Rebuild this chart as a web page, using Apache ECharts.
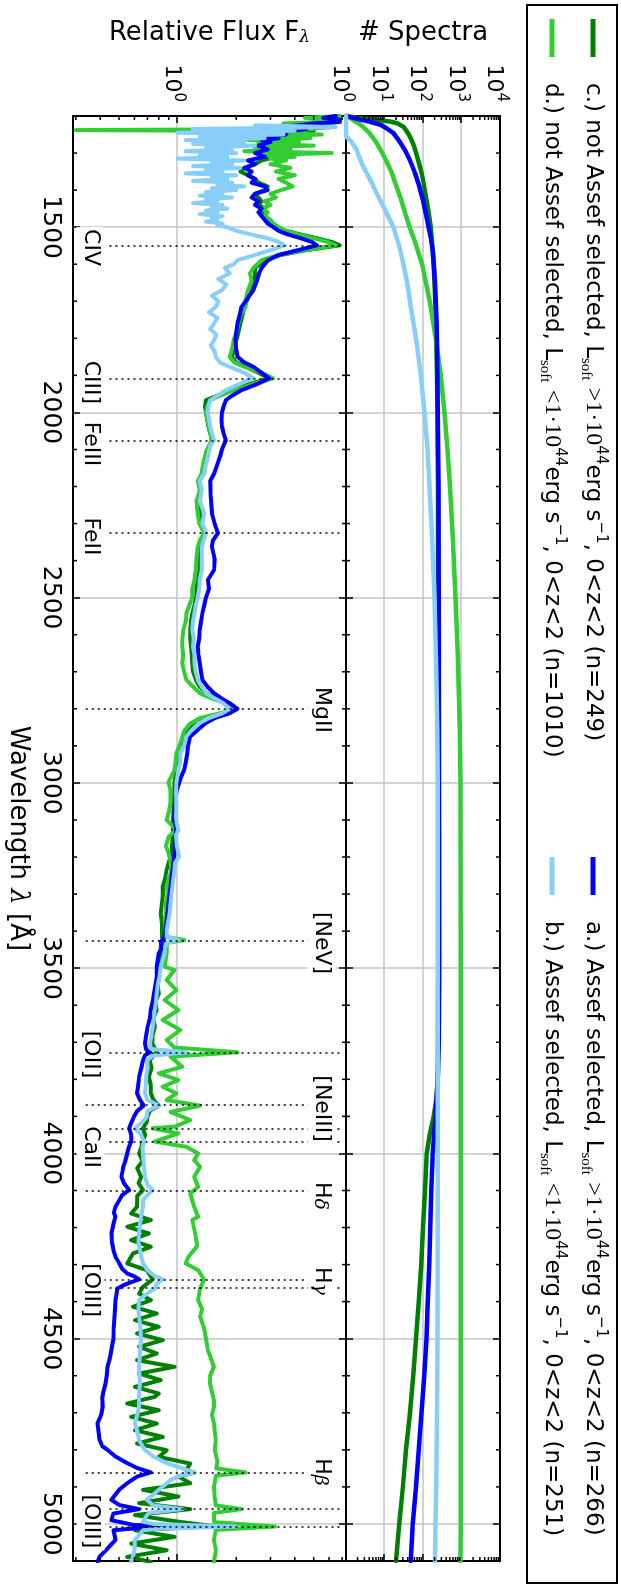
<!DOCTYPE html>
<html><head><meta charset="utf-8">
<script src="https://cdn.jsdelivr.net/npm/echarts@6/dist/echarts.min.js"></script>
<style>
html,body{margin:0;padding:0;background:#fff;overflow:hidden;}
body{width:621px;height:1586px;position:relative;}
#chart{position:absolute;left:0;top:0;width:1586px;height:621px;transform-origin:0 0;transform:translate(621px,0) rotate(90deg);}
</style></head><body><div id="chart"></div>
<script>
// ---------------- data ----------------
const seriesKeys = ['c', 'd', 'a', 'b'];
const legendTexts = {
  c: 'c.) not Assef selected, L{sub|soft} {m|>1·10}{sup|44}erg s{sup|−1}, 0<z<2 (n=249)',
  d: 'd.) not Assef selected, L{sub|soft} {m|<1·10}{sup|44}erg s{sup|−1}, 0<z<2 (n=1010)',
  a: 'a.) Assef selected, L{sub|soft} {m|>1·10}{sup|44}erg s{sup|−1}, 0<z<2 (n=266)',
  b: 'b.) Assef selected, L{sub|soft} {m|<1·10}{sup|44}erg s{sup|−1}, 0<z<2 (n=251)'
};
const wavelengthMinor = [1300,1400,1600,1700,1800,1900,2100,2200,2300,2400,2600,2700,2800,2900,3100,3200,3300,3400,3600,3700,3800,3900,4100,4200,4300,4400,4600,4700,4800,4900];
const countMinor = [2,3,4,5,6,7,8,9,20,30,40,50,60,70,80,90,200,300,400,500,600,700,800,900,2000,3000,4000,5000,6000,7000,8000,9000];
const fluxMinor = [0.3,0.4,0.5,0.6,0.7,0.8,0.9,2,3,4,5,6,7];

// number of spectra contributing at each wavelength
const countsC = [[1200,1],[1205,2],[1210,6],[1215,14],[1220,22],[1230,32],[1245,40],[1260,48],[1280,58],[1300,66],[1330,80],[1360,95],[1400,112],[1450,135],[1500,158],[1550,175],[1600,190],[1700,208],[1800,222],[1900,232],[2000,238],[2200,244],[2500,247],[3000,249],[3500,249],[3700,247],[3800,240],[3850,225],[3900,190],[3950,150],[4000,125],[4100,112],[4200,100],[4300,90],[4400,78],[4500,66],[4600,56],[4700,46],[4800,36],[4900,30],[5000,24],[5100,20]];
const countsD = [[1200,1],[1210,1.5],[1225,2.5],[1245,4],[1270,6],[1292,8],[1320,11],[1350,15],[1380,19],[1420,26],[1460,34],[1500,45],[1535,60],[1600,95],[1700,150],[1800,215],[1900,290],[2000,360],[2100,430],[2200,500],[2350,600],[2500,700],[2650,800],[2850,900],[3000,940],[3500,960],[4000,960],[4500,955],[5000,950],[5100,945]];
const countsA = [[1200,1],[1205,1.5],[1215,4],[1224,8],[1235,12],[1246,17],[1270,25],[1292,34],[1320,46],[1354,62],[1390,80],[1427,100],[1465,120],[1502,141],[1530,160],[1562,178],[1650,205],[1750,225],[1850,235],[2000,240],[2200,251],[2500,256],[3000,260],[3500,263],[3700,258],[3800,240],[3900,210],[4000,178],[4100,165],[4200,155],[4300,145],[4400,133],[4500,123],[4600,108],[4700,92],[4800,78],[4900,66],[5000,54],[5100,48]];
const countsB = [[1200,1],[1255,1],[1270,1.4],[1292,1.9],[1315,2.3],[1337,2.8],[1360,3.7],[1381,4.7],[1405,6],[1427,7.6],[1450,10],[1472,12.6],[1500,17],[1550,24],[1600,31],[1650,39],[1715,48],[1800,66],[1900,88],[2000,110],[2100,130],[2200,148],[2350,175],[2500,200],[2700,222],[2850,234],[3000,240],[3500,242],[4000,240],[4500,238],[4700,232],[4900,220],[5000,212],[5100,205]];

// composite spectra (relative flux)
const fluxA = [[1200,6.5],[1205,5.6],[1210,6.8],[1216,6.8],[1220,5.0],[1225,4.2],[1230,3.4],[1235,4.6],[1240,3.9],[1245,3.2],[1250,3.6],[1255,2.9],[1260,3.3],[1265,2.7],[1270,3.0],[1280,2.6],[1290,2.9],[1300,2.5],[1310,2.8],[1320,2.3],[1330,2.5],[1340,2.2],[1350,2.4],[1360,2.3],[1370,2.5],[1380,2.4],[1390,2.8],[1400,2.9],[1410,2.5],[1420,2.4],[1430,2.6],[1440,2.5],[1450,2.7],[1460,2.6],[1470,2.7],[1480,2.8],[1490,2.9],[1500,3.1],[1510,3.3],[1520,3.7],[1530,4.3],[1540,4.9],[1549,5.2],[1560,4.3],[1575,3.3],[1590,2.9],[1610,2.7],[1625,2.62],[1645,2.55],[1670,2.45],[1690,2.3],[1715,2.13],[1740,2.08],[1760,2.03],[1785,2.0],[1805,1.98],[1830,2.0],[1850,2.03],[1865,2.2],[1877,2.45],[1893,2.7],[1908,2.95],[1922,2.6],[1940,2.13],[1955,1.9],[1967,1.77],[1985,1.72],[2000,1.69],[2020,1.68],[2038,1.69],[2055,1.72],[2075,1.77],[2090,1.72],[2105,1.68],[2120,1.65],[2140,1.6],[2165,1.54],[2185,1.47],[2227,1.48],[2272,1.50],[2300,1.55],[2326,1.61],[2345,1.52],[2362,1.50],[2395,1.55],[2425,1.54],[2452,1.43],[2475,1.45],[2499,1.40],[2520,1.37],[2542,1.34],[2565,1.32],[2587,1.30],[2610,1.29],[2632,1.27],[2655,1.28],[2677,1.30],[2700,1.32],[2722,1.34],[2740,1.42],[2758,1.54],[2772,1.68],[2785,1.85],[2800,2.03],[2812,1.85],[2825,1.55],[2840,1.38],[2860,1.25],[2875,1.16],[2900,1.13],[2920,1.12],[2945,1.10],[2965,1.08],[2985,1.04],[2998,1.02],[3020,0.99],[3055,0.97],[3085,0.96],[3100,0.963],[3127,0.986],[3150,0.97],[3190,0.963],[3235,0.941],[3280,0.92],[3325,0.898],[3370,0.878],[3415,0.858],[3429,0.818],[3445,0.83],[3460,0.80],[3496,0.781],[3523,0.781],[3545,0.77],[3568,0.756],[3590,0.745],[3613,0.728],[3635,0.72],[3658,0.701],[3680,0.69],[3703,0.679],[3720,0.69],[3727,0.722],[3735,0.68],[3748,0.664],[3770,0.65],[3793,0.634],[3815,0.627],[3838,0.619],[3855,0.64],[3871,0.67],[3885,0.62],[3901,0.597],[3915,0.58],[3932,0.564],[3950,0.577],[3968,0.577],[3985,0.56],[4000,0.551],[4018,0.54],[4036,0.526],[4050,0.52],[4063,0.514],[4080,0.53],[4099,0.564],[4112,0.52],[4126,0.502],[4144,0.479],[4160,0.47],[4171,0.479],[4190,0.468],[4216,0.457],[4240,0.46],[4261,0.468],[4280,0.48],[4297,0.502],[4312,0.52],[4324,0.551],[4332,0.6],[4340,0.634],[4350,0.56],[4356,0.526],[4365,0.49],[4380,0.485],[4396,0.479],[4420,0.476],[4441,0.474],[4470,0.47],[4500,0.468],[4520,0.46],[4540,0.453],[4560,0.445],[4576,0.436],[4600,0.432],[4621,0.426],[4645,0.415],[4660,0.41],[4683,0.412],[4705,0.405],[4728,0.388],[4750,0.392],[4773,0.397],[4790,0.41],[4800,0.436],[4818,0.479],[4836,0.551],[4849,0.62],[4861,0.728],[4872,0.62],[4890,0.551],[4908,0.50],[4935,0.457],[4949,0.502],[4960,0.634],[4972,0.468],[4990,0.457],[5003,0.60],[5007,1.75],[5010,0.664],[5017,0.468],[5043,0.479],[5070,0.43],[5088,0.397],[5102,0.388]];
const fluxB = [[1225,2.5],[1230,6.5],[1235,1.2],[1240,4.0],[1245,1.0],[1250,3.5],[1255,1.3],[1260,2.8],[1265,1.1],[1270,2.2],[1275,1.2],[1280,2.5],[1285,1.4],[1290,1.9],[1295,1.1],[1300,2.0],[1305,1.3],[1310,1.8],[1315,1.0],[1320,2.2],[1325,1.5],[1330,1.9],[1335,1.2],[1340,2.1],[1345,1.4],[1350,1.7],[1355,1.1],[1360,2.0],[1365,1.5],[1370,1.8],[1375,1.2],[1380,1.9],[1385,1.6],[1390,2.2],[1395,1.5],[1400,2.0],[1405,1.4],[1410,1.7],[1415,1.3],[1420,1.9],[1425,1.4],[1430,1.6],[1435,1.2],[1440,1.7],[1445,1.5],[1450,1.8],[1455,1.4],[1460,1.6],[1465,1.3],[1470,1.7],[1475,1.5],[1480,1.6],[1485,1.4],[1490,1.7],[1495,1.6],[1500,1.8],[1510,2.0],[1520,2.4],[1530,2.9],[1540,3.3],[1549,3.55],[1562,3.0],[1575,2.5],[1589,2.03],[1600,1.95],[1610,1.75],[1625,1.85],[1640,1.62],[1655,1.78],[1670,1.69],[1685,1.5],[1700,1.62],[1715,1.57],[1730,1.45],[1745,1.6],[1760,1.54],[1775,1.47],[1790,1.58],[1805,1.54],[1820,1.48],[1835,1.55],[1850,1.57],[1865,1.65],[1877,1.85],[1893,2.2],[1908,2.45],[1922,2.1],[1940,1.77],[1955,1.6],[1967,1.47],[1985,1.44],[2000,1.43],[2020,1.45],[2038,1.47],[2055,1.5],[2075,1.54],[2090,1.47],[2105,1.45],[2120,1.43],[2140,1.40],[2165,1.37],[2185,1.30],[2210,1.33],[2240,1.30],[2272,1.37],[2300,1.34],[2326,1.40],[2345,1.36],[2362,1.335],[2395,1.33],[2425,1.33],[2452,1.30],[2475,1.29],[2499,1.27],[2520,1.24],[2542,1.22],[2565,1.2],[2587,1.19],[2610,1.21],[2632,1.20],[2655,1.22],[2677,1.22],[2700,1.24],[2722,1.27],[2740,1.33],[2758,1.40],[2772,1.55],[2785,1.72],[2800,1.85],[2812,1.70],[2825,1.45],[2840,1.28],[2860,1.17],[2875,1.108],[2900,1.08],[2920,1.033],[2945,1.03],[2965,1.009],[2998,0.986],[3030,0.98],[3055,0.986],[3090,0.98],[3110,0.99],[3127,1.009],[3140,0.98],[3170,0.99],[3199,1.019],[3215,0.97],[3235,0.963],[3260,0.95],[3280,0.941],[3300,0.93],[3325,0.92],[3350,0.91],[3370,0.898],[3395,0.88],[3415,0.878],[3424,1.009],[3432,0.88],[3445,0.86],[3460,0.858],[3496,0.818],[3523,0.807],[3545,0.79],[3568,0.781],[3590,0.775],[3613,0.763],[3635,0.755],[3658,0.745],[3680,0.735],[3703,0.722],[3718,0.73],[3727,1.108],[3736,0.75],[3748,0.701],[3770,0.70],[3793,0.689],[3815,0.685],[3838,0.679],[3855,0.70],[3871,0.80],[3885,0.70],[3901,0.695],[3915,0.66],[3932,0.604],[3950,0.65],[3968,0.670],[3985,0.66],[4000,0.664],[4030,0.67],[4063,0.679],[4085,0.70],[4099,0.745],[4112,0.70],[4126,0.664],[4144,0.664],[4171,0.649],[4190,0.64],[4216,0.634],[4240,0.63],[4261,0.64],[4280,0.65],[4297,0.664],[4315,0.70],[4330,0.76],[4340,0.838],[4352,0.78],[4365,0.763],[4380,0.69],[4396,0.634],[4420,0.63],[4441,0.634],[4470,0.645],[4500,0.649],[4540,0.64],[4576,0.634],[4621,0.64],[4650,0.634],[4683,0.634],[4705,0.62],[4728,0.604],[4750,0.62],[4773,0.634],[4790,0.66],[4800,0.679],[4818,0.75],[4836,0.878],[4849,1.05],[4861,1.216],[4872,1.0],[4882,0.92],[4908,0.80],[4935,0.695],[4950,0.75],[4960,1.057],[4970,0.72],[4976,0.695],[4994,0.664],[5000,0.75],[5007,1.985],[5013,0.80],[5017,0.664],[5043,0.604],[5070,0.60],[5088,0.59],[5102,0.577]];
const fluxD = [[1200,6.8],[1205,4.5],[1210,6.5],[1215,6.8],[1220,3.5],[1225,6.0],[1230,2.8],[1235,5.0],[1238,0.3],[1241,4.5],[1245,3.0],[1250,5.5],[1255,2.4],[1260,4.8],[1265,2.3],[1270,4.2],[1275,2.6],[1280,5.0],[1285,2.5],[1290,3.8],[1295,2.2],[1300,6.2],[1305,2.8],[1310,4.0],[1315,3.0],[1320,3.6],[1330,3.0],[1340,3.8],[1350,3.2],[1360,4.0],[1370,3.3],[1380,3.6],[1390,3.9],[1400,3.4],[1410,3.0],[1420,3.2],[1430,2.8],[1440,3.0],[1450,2.7],[1460,2.9],[1470,2.8],[1480,3.0],[1490,3.1],[1500,3.3],[1510,3.6],[1520,4.2],[1530,5.0],[1540,5.9],[1549,6.5],[1562,4.5],[1575,3.3],[1589,2.7],[1610,2.45],[1625,2.35],[1645,2.4],[1670,2.3],[1690,2.25],[1715,2.23],[1740,2.1],[1760,2.05],[1785,2.0],[1805,1.94],[1830,1.9],[1850,1.85],[1865,1.95],[1877,2.2],[1893,2.7],[1908,3.09],[1922,2.5],[1940,1.94],[1955,1.65],[1967,1.47],[1985,1.42],[2000,1.40],[2020,1.42],[2038,1.45],[2055,1.47],[2075,1.50],[2090,1.45],[2105,1.40],[2120,1.38],[2140,1.35],[2165,1.33],[2185,1.27],[2210,1.30],[2240,1.25],[2272,1.27],[2300,1.29],[2326,1.37],[2345,1.30],[2362,1.27],[2395,1.25],[2425,1.24],[2452,1.22],[2475,1.19],[2499,1.19],[2520,1.15],[2542,1.11],[2565,1.10],[2587,1.07],[2610,1.06],[2632,1.057],[2655,1.07],[2677,1.057],[2700,1.08],[2722,1.11],[2740,1.2],[2758,1.30],[2772,1.5],[2785,1.75],[2800,1.985],[2812,1.65],[2825,1.30],[2840,1.16],[2860,1.08],[2875,1.057],[2900,1.02],[2920,0.986],[2945,0.975],[2965,0.963],[2998,0.898],[3020,0.92],[3055,0.92],[3080,0.90],[3100,0.878],[3127,0.986],[3145,0.90],[3170,0.87],[3190,0.898],[3210,0.92],[3235,0.928],[3260,0.90],[3280,0.878],[3300,0.89],[3325,0.869],[3350,0.87],[3370,0.858],[3395,0.87],[3415,0.858],[3424,1.082],[3432,0.88],[3460,0.878],[3496,0.858],[3505,0.963],[3532,0.878],[3559,0.986],[3586,0.858],[3613,1.009],[3640,0.838],[3667,1.033],[3694,0.878],[3714,0.963],[3727,2.03],[3739,0.920],[3766,1.057],[3784,0.800],[3802,1.009],[3820,0.838],[3838,0.986],[3856,0.878],[3871,1.304],[3888,0.920],[3910,1.161],[3928,0.963],[3932,0.745],[3946,1.009],[3968,0.763],[3982,1.108],[4000,1.274],[4018,1.216],[4036,1.304],[4063,1.216],[4090,1.274],[4108,1.161],[4144,1.216],[4171,1.274],[4180,1.19],[4216,1.23],[4250,1.26],[4280,1.134],[4297,1.10],[4315,1.274],[4340,1.366],[4365,1.304],[4396,1.274],[4420,1.335],[4441,1.304],[4470,1.366],[4500,1.40],[4530,1.43],[4576,1.536],[4600,1.47],[4621,1.466],[4666,1.536],[4683,1.54],[4705,1.50],[4728,1.536],[4750,1.55],[4773,1.572],[4800,1.55],[4830,1.60],[4850,1.58],[4861,2.23],[4870,1.572],[4900,1.536],[4930,1.55],[4950,1.572],[4960,2.13],[4970,1.536],[4995,1.54],[5007,3.16],[5016,1.572],[5043,1.536],[5070,1.572],[5102,1.536]];
const fluxC = [[1200,6.8],[1205,6.0],[1210,6.8],[1216,6.8],[1220,5.5],[1225,4.5],[1230,6.2],[1235,3.8],[1240,5.0],[1245,3.5],[1250,4.6],[1255,3.2],[1260,4.0],[1265,3.0],[1270,3.6],[1280,3.1],[1290,3.4],[1300,2.9],[1310,3.2],[1320,2.7],[1330,2.5],[1340,2.2],[1350,2.1],[1360,2.3],[1370,2.5],[1380,2.6],[1390,2.9],[1400,2.8],[1410,2.5],[1420,2.6],[1430,2.7],[1440,2.6],[1450,2.8],[1460,2.7],[1470,2.8],[1480,2.9],[1490,3.0],[1500,3.2],[1510,3.6],[1520,4.3],[1530,5.2],[1540,6.2],[1549,6.8],[1562,4.6],[1575,3.4],[1589,2.8],[1610,2.5],[1625,2.5],[1645,2.45],[1670,2.4],[1690,2.3],[1715,2.2],[1740,2.15],[1760,2.1],[1785,2.05],[1805,2.0],[1830,1.95],[1850,1.9],[1865,2.0],[1877,2.25],[1893,2.6],[1908,2.95],[1922,2.4],[1940,1.85],[1955,1.6],[1967,1.40],[1985,1.38],[2000,1.40],[2020,1.42],[2038,1.44],[2055,1.47],[2075,1.50],[2090,1.46],[2105,1.42],[2120,1.40],[2140,1.36],[2165,1.33],[2185,1.30],[2210,1.31],[2240,1.29],[2272,1.30],[2300,1.31],[2326,1.38],[2345,1.32],[2362,1.30],[2395,1.29],[2425,1.29],[2452,1.26],[2475,1.25],[2499,1.245],[2520,1.22],[2542,1.19],[2565,1.17],[2587,1.16],[2610,1.16],[2632,1.17],[2655,1.18],[2677,1.19],[2700,1.2],[2722,1.24],[2740,1.3],[2758,1.4],[2772,1.6],[2785,1.85],[2800,2.0],[2812,1.7],[2825,1.4],[2840,1.22],[2860,1.12],[2875,1.08],[2900,1.05],[2920,1.009],[2945,1.0],[2965,0.99],[2998,0.963],[3030,0.96],[3060,0.955],[3090,0.95],[3110,0.945],[3127,0.95],[3150,0.94],[3190,0.93],[3235,0.878],[3260,0.86],[3280,0.838],[3300,0.84],[3325,0.83],[3352,0.818],[3380,0.83],[3415,0.83],[3424,0.85],[3440,0.82],[3460,0.818],[3496,0.80],[3523,0.800],[3550,0.79],[3568,0.800],[3590,0.77],[3613,0.78],[3635,0.75],[3658,0.763],[3680,0.745],[3703,0.74],[3727,0.781],[3748,0.72],[3770,0.735],[3793,0.711],[3815,0.728],[3838,0.728],[3855,0.75],[3871,0.80],[3885,0.72],[3901,0.70],[3915,0.695],[3932,0.664],[3950,0.68],[3968,0.66],[3985,0.65],[4000,0.634],[4020,0.66],[4040,0.62],[4063,0.649],[4080,0.63],[4099,0.664],[4115,0.62],[4144,0.619],[4162,0.577],[4180,0.728],[4198,0.551],[4216,0.711],[4234,0.577],[4252,0.728],[4270,0.590],[4297,0.551],[4315,0.695],[4340,0.745],[4360,0.664],[4378,0.634],[4396,0.728],[4414,0.590],[4432,0.781],[4450,0.604],[4468,0.800],[4486,0.619],[4504,0.838],[4522,0.634],[4540,0.781],[4558,0.619],[4576,0.963],[4594,0.634],[4612,0.818],[4630,0.604],[4648,0.800],[4657,0.763],[4675,0.551],[4693,0.800],[4711,0.577],[4729,0.781],[4747,0.604],[4765,0.838],[4783,0.619],[4801,0.878],[4819,0.800],[4837,1.161],[4855,1.108],[4861,1.216],[4872,1.009],[4890,1.161],[4908,0.664],[4926,1.009],[4944,0.634],[4960,1.161],[4976,0.604],[4994,1.009],[5006,1.536],[5017,0.604],[5035,0.963],[5053,0.577],[5071,0.878],[5089,0.551],[5102,0.728]];

// emission lines
const lineLambda = [1549,1909,2076,2326,2800,3426,3727,3869,3934,3968,4102,4340,4363,4861,4959,5007];
const lineSide   = ['low','low','low','low','high','high','low','high','low','low','high','high','low','high','low','low'];
const labelNames  = ['CIV','CIII]','FeIII','FeII','MgII','[NeV]','[OII]','[NeIII]','CaII','H{g|δ}','H{g|γ}','[OIII]','H{g|β}','[OIII]'];
const labelLambda = [1555,1919,2085,2335,2803,3432,3733,3879,3983,4115,4344,4369,4860,4993];
const labelSide   = ['low','low','low','low','high','high','low','high','low','high','high','low','high','low'];

// ---------------- chart ----------------
const colors = {c:'#008000', d:'#32CD32', a:'#0000FF', b:'#87CEFA'};
const countData = {c:countsC, d:countsD, a:countsA, b:countsB};
const fluxData = {c:fluxC, d:fluxD, a:fluxA, b:fluxB};
const FONT = 'DejaVu Sans';
const axisLineStyle = {color:'#000', width:2};
const tickStyle = {color:'#000', width:1.5};
const gridLineStyle = {color:'#c4c4c4', width:1.5};

function powLabel(v){
  const e = Math.log10(v), r = Math.round(e);
  if (Math.abs(e - r) > 1e-6) return '';
  return '{b|10}{p|' + r + '}';
}
const powRich = {
  b:{fontSize:22, fontFamily:FONT, color:'#000', lineHeight:18, padding:[12,0,0,0]},
  p:{fontSize:15, fontFamily:FONT, color:'#000', lineHeight:18, verticalAlign:'top'}
};

function xAx(grid, pos, withLabel, withSplit){
  const ax = {
    gridIndex:grid, type:'value', position:pos, min:1200, max:5100, splitNumber:8,
    axisLine:{show:true, onZero:false, lineStyle:axisLineStyle},
    axisTick:{show:true, inside:true, length:7, lineStyle:tickStyle},
    axisLabel:{show:withLabel, showMinLabel:false, showMaxLabel:false, fontSize:25, fontFamily:FONT, color:'#000', margin:10,
      formatter: v => String(Math.round(v))},
    splitLine:{show:withSplit, lineStyle:gridLineStyle}
  };
  if (withLabel){
    ax.name = 'Wavelength {i|λ} [Å]';
    ax.nameLocation = 'middle';
    ax.nameGap = 42;
    ax.nameTextStyle = {fontSize:26, fontFamily:FONT, color:'#000',
      rich:{i:{fontSize:26, fontFamily:'DejaVu Serif', fontStyle:'italic', color:'#000'}}};
  }
  return ax;
}
function yAx(grid, pos, min, max, withLabel, name){
  const ax = {
    gridIndex:grid, type:'log', logBase:10, position:pos, min:min, max:max,
    axisLine:{show:true, onZero:false, lineStyle:axisLineStyle},
    axisTick:{show:true, inside:true, length:7, lineStyle:tickStyle},
    axisLabel:{show:withLabel, formatter:powLabel, rich:powRich, margin:14, showMinLabel:true, showMaxLabel:true},
    splitLine:{show:withLabel, lineStyle:gridLineStyle}
  };
  if (name){
    ax.name = name; ax.nameLocation = 'middle'; ax.nameGap = 70;
    ax.nameTextStyle = {fontSize:26, fontFamily:FONT, color:'#000',
      rich:{s:{fontSize:17, fontFamily:'DejaVu Serif', fontStyle:'italic', color:'#000', lineHeight:10, verticalAlign:'bottom'}}};
  }
  return ax;
}

function minorTicks(params, api){
  const cs = params.coordSys;
  const kind = api.value(2);
  const p = api.coord([api.value(0), api.value(1)]);
  const L = 4, st = {stroke:'#000', lineWidth:1.5};
  if (kind === 0){
    const x = p[0];
    return {type:'group', children:[
      {type:'line', shape:{x1:x, y1:cs.y, x2:x, y2:cs.y+L}, style:st},
      {type:'line', shape:{x1:x, y1:cs.y+cs.height, x2:x, y2:cs.y+cs.height-L}, style:st}]};
  }
  const y = p[1];
  return {type:'group', children:[
    {type:'line', shape:{x1:cs.x, y1:y, x2:cs.x+L, y2:y}, style:st},
    {type:'line', shape:{x1:cs.x+cs.width, y1:y, x2:cs.x+cs.width-L, y2:y}, style:st}]};
}

const series = [];
seriesKeys.forEach(k => {
  series.push({name:k, type:'line', xAxisIndex:0, yAxisIndex:0, data:countData[k], showSymbol:false, symbol:'none',
    lineStyle:{color:colors[k], width:4.5, join:'round', cap:'round'}, itemStyle:{color:colors[k]}, animation:false});
});
seriesKeys.forEach(k => {
  series.push({name:k, type:'line', xAxisIndex:2, yAxisIndex:2, data:fluxData[k], showSymbol:false, symbol:'none',
    lineStyle:{color:colors[k], width:4, join:'round', cap:'round'}, itemStyle:{color:colors[k]}, animation:false});
});
// minor ticks
series.push({name:'ticks0', type:'custom', xAxisIndex:0, yAxisIndex:0, renderItem:minorTicks, silent:true, animation:false, z:10,
  data: wavelengthMinor.map(l => [l, 1, 0]).concat(countMinor.map(v => [1200, v, 1]))});
series.push({name:'ticks1', type:'custom', xAxisIndex:2, yAxisIndex:2, renderItem:minorTicks, silent:true, animation:false, z:10,
  data: wavelengthMinor.map(l => [l, 1, 0]).concat(fluxMinor.map(v => [1200, v, 1]))});
// emission lines and labels
const lowRange = [0.446, 6.83], highRange = [0.337, 4.71];
series.push({
  name:'lines', type:'scatter', xAxisIndex:2, yAxisIndex:2, z:6, silent:true, animation:false,
  symbolSize:1, itemStyle:{color:'rgba(0,0,0,0)', opacity:1},
  data: labelNames.map((n, i) => ({name:n, value:[labelLambda[i], labelSide[i] === 'low' ? 0.357 : 5.5]})),
  label:{show:true, position:'inside', formatter:p => p.name, fontSize:22, fontFamily:FONT, color:'#000', opacity:1,
    textBorderWidth:0, backgroundColor:'#fff', padding:[3,2],
    rich:{g:{fontSize:19, fontFamily:'DejaVu Serif', fontStyle:'italic', color:'#000', lineHeight:12, verticalAlign:'bottom', backgroundColor:'#fff'}}},
  markLine:{silent:true, symbol:['none','none'], animation:false, label:{show:false},
    lineStyle:{type:[2,4], color:'#000', width:1.5, opacity:1},
    emphasis:{disabled:true},
    data: lineLambda.map((l, i) => {
      const r = lineSide[i] === 'low' ? lowRange : highRange;
      return [{coord:[l, r[0]]}, {coord:[l, r[1]]}];
    })}
});

const legendBase = {
  orient:'vertical', top:13, itemWidth:38, itemHeight:5, itemGap:11, icon:'rect', padding:0,
  selectedMode:false,
  formatter: name => legendTexts[name],
  textStyle:{fontSize:23, fontFamily:FONT, color:'#000', lineHeight:30, padding:[0,0,0,21],
    rich:{
      sub:{fontSize:15, fontFamily:'Liberation Serif', color:'#000', lineHeight:12, verticalAlign:'bottom'},
      sup:{fontSize:15, fontFamily:FONT, color:'#000', lineHeight:12, verticalAlign:'top'},
      m:{fontSize:24, fontFamily:'Liberation Serif', color:'#000', lineHeight:30}
    }}
};

const option = {
  backgroundColor:'#fff',
  animation:false,
  grid:[
    {left:116, top:121, width:1445, height:154, outerBoundsMode:'none', containLabel:false},
    {left:116, top:275, width:1445, height:273, outerBoundsMode:'none', containLabel:false}
  ],
  xAxis:[xAx(0,'bottom',false,true), xAx(0,'top',false,false), xAx(1,'bottom',true,true), xAx(1,'top',false,false)],
  yAxis:[yAx(0,'left',1,10000,true,'# Spectra'), yAx(0,'right',1,10000,false,null),
         yAx(1,'left',0.29,7.33,true,'Relative Flux F{s|λ}'), yAx(1,'right',0.29,7.33,false,null)],
  legend:[Object.assign({}, legendBase, {left:19, data:['c','d']}),
          Object.assign({}, legendBase, {left:857, data:['a','b']})],
  graphic:[{type:'rect', silent:true, shape:{x:5, y:4, width:1578, height:90},
    style:{fill:'none', stroke:'#000', lineWidth:2}, z:100}],
  series:series
};
const chart = echarts.init(document.getElementById('chart'), null, {renderer:'canvas'});
chart.setOption(option);
</script></body></html>
